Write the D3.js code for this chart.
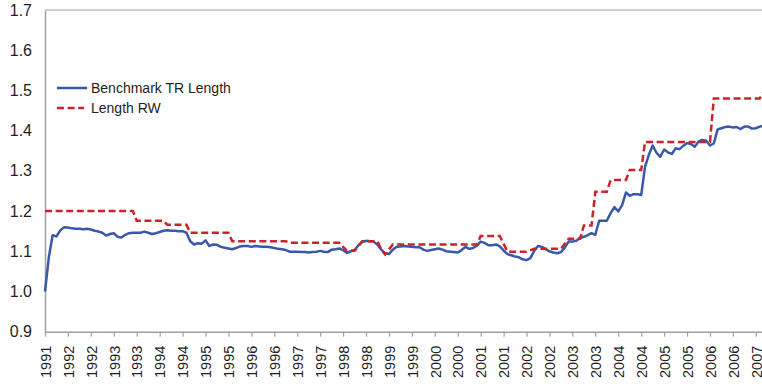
<!DOCTYPE html>
<html>
<head>
<meta charset="utf-8">
<script src="https://cdn.jsdelivr.net/npm/d3@7"></script>
<style>
  body { margin: 0; background: #fff; }
  svg { display: block; font-family: "Liberation Sans", Arial, sans-serif; }
</style>
</head>
<body>
<div id="chart"></div>
<script>
// tick labels, one tick every 6 months
const tickLabels = ["1991",
  "1992", "1992", "1993", "1993", "1994", "1994", "1995", "1995",
  "1996", "1996", "1997", "1997", "1998", "1998", "1999", "1999",
  "2000", "2000", "2001", "2001", "2002", "2002", "2003", "2003",
  "2004", "2004", "2005", "2005", "2006", "2006", "2007"];

const yTicks = [0.9, 1.0, 1.1, 1.2, 1.3, 1.4, 1.5, 1.6, 1.7];

// Benchmark TR Length, monthly (month 0 .. 188)
const benchmarkTR = [
  1.000, 1.085, 1.140, 1.137, 1.152, 1.160, 1.159, 1.157, 1.156, 1.156,
  1.155, 1.156, 1.154, 1.151, 1.149, 1.146, 1.139, 1.143, 1.145, 1.136,
  1.134, 1.141, 1.145, 1.146, 1.146, 1.146, 1.149, 1.146, 1.143, 1.145,
  1.148, 1.151, 1.152, 1.151, 1.151, 1.150, 1.150, 1.146, 1.125, 1.117,
  1.120, 1.119, 1.127, 1.113, 1.117, 1.116, 1.111, 1.109, 1.107, 1.105,
  1.108, 1.112, 1.113, 1.113, 1.111, 1.113, 1.112, 1.111, 1.111, 1.110,
  1.108, 1.106, 1.105, 1.103, 1.099, 1.099, 1.099, 1.098, 1.098, 1.097,
  1.098, 1.099, 1.101, 1.099, 1.098, 1.104, 1.105, 1.107, 1.103, 1.096,
  1.100, 1.103, 1.115, 1.123, 1.126, 1.125, 1.124, 1.116, 1.104, 1.095,
  1.093, 1.104, 1.111, 1.112, 1.113, 1.112, 1.111, 1.110, 1.110, 1.104,
  1.101, 1.103, 1.105, 1.107, 1.104, 1.100, 1.099, 1.098, 1.097, 1.103,
  1.111, 1.106, 1.108, 1.114, 1.124, 1.121, 1.115, 1.115, 1.117, 1.112,
  1.102, 1.093, 1.090, 1.087, 1.085, 1.080, 1.078, 1.083, 1.101, 1.113,
  1.111, 1.105, 1.100, 1.097, 1.095, 1.098, 1.109, 1.124, 1.124, 1.126,
  1.133, 1.136, 1.140, 1.145, 1.141, 1.176, 1.176, 1.176, 1.195, 1.210,
  1.199, 1.215, 1.246, 1.238, 1.242, 1.242, 1.240, 1.310, 1.340, 1.363,
  1.345, 1.335, 1.353, 1.346, 1.342, 1.356, 1.354, 1.362, 1.369, 1.367,
  1.360, 1.373, 1.377, 1.375, 1.363, 1.368, 1.403, 1.406, 1.409, 1.410,
  1.408, 1.409, 1.404, 1.410, 1.410, 1.405, 1.406, 1.410, 1.412
];

// Length RW: [first month, last month, value]
const lengthRW = [
  [0, 23, 1.200], [24, 31, 1.176], [32, 37, 1.166], [38, 48, 1.146],
  [49, 63, 1.125], [64, 77, 1.121], [79, 81, 1.101], [83, 87, 1.125],
  [88, 88, 1.104], [89, 89, 1.092], [91, 113, 1.117], [114, 119, 1.138],
  [121, 126, 1.099], [128, 135, 1.106], [137, 140, 1.131], [141, 143, 1.164],
  [144, 147, 1.248], [148, 152, 1.277], [153, 156, 1.302], [157, 174, 1.372],
  [175, 187, 1.480], [188, 188, 1.496]
];

const width = 762, height = 387;
const margin = { top: 10, right: 0, bottom: 55, left: 45 };
const plotBottom = height - margin.bottom - 0.3;

const svg = d3.select("#chart")
  .append("svg")
  .attr("width", width)
  .attr("height", height);

const x = d3.scaleLinear()
  .domain([0, 188])
  .range([margin.left, 763.5]);

const y = d3.scaleLinear()
  .domain([0.9, 1.7])
  .range([plotBottom, margin.top]);

// top border of plot area
svg.append("line")
  .attr("x1", margin.left).attr("x2", width)
  .attr("y1", y(1.7)).attr("y2", y(1.7))
  .attr("stroke", "#a0a0a0")
  .attr("stroke-width", 1.2);

// y axis
const yAxis = svg.append("g")
  .attr("transform", `translate(${margin.left},0)`)
  .call(d3.axisLeft(y).tickValues(yTicks).tickSize(0).tickPadding(13)
    .tickFormat(d3.format(".1f")));
yAxis.select(".domain").attr("stroke", "#a0a0a0").attr("stroke-width", 1.5);
yAxis.selectAll("text")
  .style("font-size", "16px")
  .style("fill", "#231f20");

// x axis
const xAxis = svg.append("g")
  .attr("transform", `translate(0,${plotBottom})`)
  .call(d3.axisBottom(x)
    .tickValues(tickLabels.map((d, i) => i * 6))
    .tickFormat((d, i) => tickLabels[i])
    .tickSizeInner(5)
    .tickSizeOuter(0));
xAxis.select(".domain").attr("stroke", "#a0a0a0").attr("stroke-width", 1.5);
xAxis.selectAll(".tick line").attr("stroke", "#a0a0a0").attr("stroke-width", 1.2);
xAxis.selectAll("text")
  .attr("transform", "rotate(-90)")
  .attr("text-anchor", "end")
  .attr("x", -14)
  .attr("y", 0)
  .attr("dy", "0.36em")
  .style("font-size", "14.5px")
  .style("fill", "#231f20");

// =========================
// LINES
// =========================
const line = d3.line()
  .x(d => x(d[0]))
  .y(d => y(d[1]));

svg.append("path")
  .datum(benchmarkTR.map((v, i) => [i, v]))
  .attr("d", line)
  .attr("fill", "none")
  .attr("stroke", "#3a58a8")
  .attr("stroke-width", 2.5)
  .attr("stroke-linejoin", "round");

const rwPoints = lengthRW.flatMap(([a, b, v]) => a === b ? [[a, v]] : [[a, v], [b, v]]);

svg.append("path")
  .datum(rwPoints)
  .attr("d", line)
  .attr("fill", "none")
  .attr("stroke", "#cc2229")
  .attr("stroke-width", 2.5)
  .attr("stroke-dasharray", "7,3.6");

// =========================
// LEGEND
// =========================
const legendItems = [
  { label: "Benchmark TR Length", color: "#3a58a8", dash: null },
  { label: "Length RW", color: "#cc2229", dash: "7,3.6" }
];

const legend = svg.append("g")
  .attr("transform", "translate(57,88)");

legend.selectAll("g")
  .data(legendItems)
  .join("g")
  .attr("transform", (d, i) => `translate(0,${i * 20})`)
  .each(function(d) {
    const g = d3.select(this);
    g.append("line")
      .attr("x1", 0).attr("x2", d.dash ? 27 : 30)
      .attr("stroke", d.color)
      .attr("stroke-width", 2.5)
      .attr("stroke-dasharray", d.dash);
    g.append("text")
      .attr("x", 34)
      .attr("dy", "0.36em")
      .style("font-size", "14px")
      .style("fill", "#231f20")
      .text(d.label);
  });
</script>
</body>
</html>
